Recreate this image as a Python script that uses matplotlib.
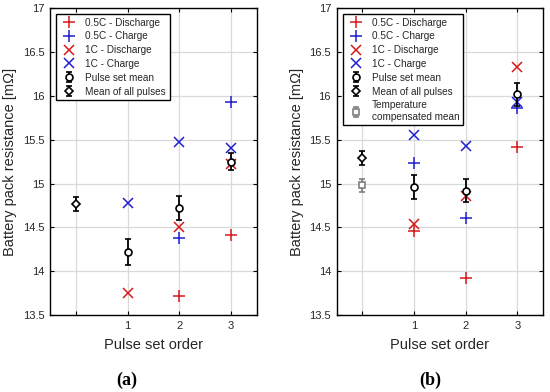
import numpy as np
import matplotlib
matplotlib.use("Agg")
import matplotlib.pyplot as plt

plt.rcParams['font.family'] = ['Liberation Sans', 'DejaVu Sans']

nan = np.nan
sets = [1, 2, 3]
xticks = [0, 1, 2, 3]
xticklabels = ['', '1', '2', '3']

# Panel (a)
a_dis05 = [nan, 13.72, 14.41]
a_ch05 = [nan, 14.375, 15.93]
a_dis1 = [13.75, 14.50, 15.22]
a_ch1 = [14.78, 15.48, 15.41]
a_mean = [14.22, 14.72, 15.25]
a_err = [0.15, 0.135, 0.10]
a_all, a_all_err = 14.77, 0.08

# Panel (b)
b_dis05 = [14.46, 13.92, 15.42]
b_ch05 = [15.24, 14.61, 15.86]
b_dis1 = [14.54, 14.86, 16.33]
b_ch1 = [15.55, 15.43, 15.93]
b_mean = [14.96, 14.92, 16.02]
b_err = [0.14, 0.13, 0.13]
b_all, b_all_err = 15.29, 0.08
b_temp, b_temp_err = 14.98, 0.075

RED = '#d7191c'
BLUE = '#1f1fd0'
TXT = '#262626'

fig = plt.figure(figsize=(5.5, 3.92), dpi=100)
ax_a = fig.add_axes([0.0909, 0.196, 0.376, 0.783])
ax_b = fig.add_axes([0.612, 0.196, 0.3756, 0.783])


def draw(ax, dis05, ch05, dis1, ch1, mean, err, allm, allerr, temp=None, temperr=None):
    ax.plot(sets, dis05, ls='none', marker='+', color=RED, ms=9, mew=1.1, label='0.5C - Discharge')
    ax.plot(sets, ch05, ls='none', marker='+', color=BLUE, ms=9, mew=1.1, label='0.5C - Charge')
    ax.plot(sets, dis1, ls='none', marker='x', color=RED, ms=7, mew=1.1, label='1C - Discharge')
    ax.plot(sets, ch1, ls='none', marker='x', color=BLUE, ms=7, mew=1.1, label='1C - Charge')
    ax.errorbar(sets, mean, yerr=err, ls='none', marker='o', color='black', mfc='white',
                ms=5, mew=1.2, elinewidth=1.3, capsize=2.5, capthick=1.3, label='Pulse set mean')
    ax.errorbar([0], [allm], yerr=[allerr], ls='none', marker='D', color='black', mfc='white',
                ms=4.5, mew=1.2, elinewidth=1.3, capsize=2.5, capthick=1.3, label='Mean of all pulses')
    if temp is not None:
        ax.errorbar([0], [temp], yerr=[temperr], ls='none', marker='s', color='#808080', mfc='white',
                    ms=4.5, mew=1.2, elinewidth=1.3, capsize=2.5, capthick=1.3,
                    label='Temperature\ncompensated mean')
    ax.set_xlim(-0.5, 3.5)
    ax.set_ylim(13.5, 17)
    ax.set_xticks(xticks)
    ax.set_xticklabels(xticklabels)
    ax.set_yticks([13.5, 14, 14.5, 15, 15.5, 16, 16.5, 17])
    ax.set_yticklabels(['13.5', '14', '14.5', '15', '15.5', '16', '16.5', '17'])
    ax.grid(True, color='#d9d9d9', lw=0.9)
    ax.set_axisbelow(True)
    ax.tick_params(direction='in', top=True, right=True, labelsize=8, colors='black',
                   labelcolor=TXT, length=3, width=0.8, pad=4)
    for s in ax.spines.values():
        s.set_linewidth(1.0)
        s.set_color('black')
    ax.set_xlabel('Pulse set order', fontsize=10.5, color=TXT, labelpad=5)
    ax.set_ylabel('Battery pack resistance [m\u03a9]', fontsize=10.5, color=TXT, labelpad=4)
    leg = ax.legend(loc='upper left', bbox_to_anchor=(0.029, 0.981), borderaxespad=0,
                    fontsize=7.2, frameon=True, fancybox=False, framealpha=1,
                    edgecolor='black', handlelength=2.0, handletextpad=0.6,
                    labelspacing=0.38, borderpad=0.35, numpoints=1)
    leg.get_frame().set_linewidth(1.0)
    for t in leg.get_texts():
        t.set_color(TXT)


draw(ax_a, a_dis05, a_ch05, a_dis1, a_ch1, a_mean, a_err, a_all, a_all_err)
draw(ax_b, b_dis05, b_ch05, b_dis1, b_ch1, b_mean, b_err, b_all, b_all_err, b_temp, b_temp_err)

fig.text(0.231, 0.031, '(a)', ha='center', va='center', fontsize=13, fontweight='bold',
         family=['Liberation Serif', 'DejaVu Serif'])
fig.text(0.782, 0.031, '(b)', ha='center', va='center', fontsize=13, fontweight='bold',
         family=['Liberation Serif', 'DejaVu Serif'])

fig.savefig('out.png', dpi=100)
